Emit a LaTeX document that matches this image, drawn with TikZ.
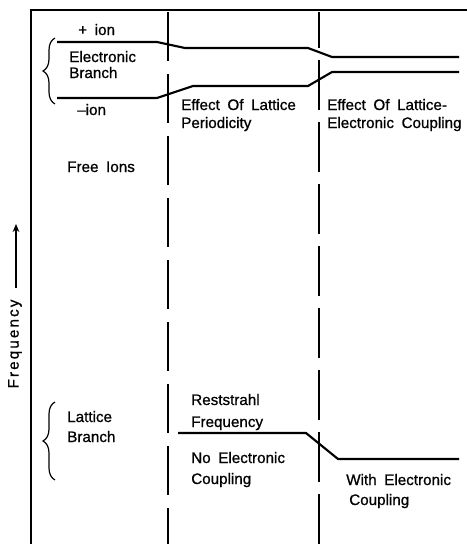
\documentclass[tikz,border=0pt]{standalone}
\usepackage{fontspec}
\setmainfont[WordSpace=1.8,FakeBold=0.8]{Liberation Sans}
\newfontfamily\spacedfont[LetterSpace=14,FakeBold=0.8]{Liberation Sans}
\usetikzlibrary{decorations.pathreplacing,arrows.meta}
\begin{document}
\begin{tikzpicture}[x=0.75pt,y=-0.75pt,
  lbl/.style={anchor=base west, inner sep=0pt, font=\fontsize{11.4}{13}\selectfont},
  frameline/.style={line width=1.1pt},
  curve/.style={line width=1.6pt, line join=round},
  divider/.style={line width=1.1pt},
  bracemark/.style={line width=0.9pt, decorate, decoration={brace, amplitude=9pt, aspect=0.5}}]
\useasboundingbox (0,0) rectangle (467,544);
% frame
\coordinate (fbl) at (31,544);
\coordinate (ftl) at (31,10);
\coordinate (ftr) at (467,10);
\draw[frameline] (fbl) -- (ftl) -- (ftr);
% dividers
\coordinate (d1t) at (168,12);
\coordinate (d1b) at (168,544);
\coordinate (d2t) at (319,12);
\coordinate (d2b) at (319,544);
\draw[divider, dash pattern=on 36.75pt off 9.75pt] (d1t) -- (d1b);
\draw[divider, dash pattern=on 37.5pt off 9pt, dash phase=10.5pt] (d2t) -- (d2b);
% electronic branch curves
\draw[curve] (57,42) -- (157,42) -- (185,48) -- (308,48) -- (332,57) -- (459,57);
\draw[curve] (57,98) -- (157,98) -- (193,86) -- (308,86) -- (332,72) -- (459,72);
% lattice branch curve
\draw[curve] (178,433) -- (306,433) -- (338,459) -- (459,459);
% braces
\coordinate (b1b) at (55,104);
\coordinate (b1t) at (55,38);
\draw[bracemark] (b1b) -- (b1t);
\coordinate (b2b) at (55,480);
\coordinate (b2t) at (55,402);
\draw[bracemark] (b2b) -- (b2t);
% labels
\node[lbl] (pion) at (78,35) {+ ion};
\node[lbl] (eb1) at (69,62) {Electronic};
\node[lbl] (eb2) at (69,78) {Branch};
\node[lbl] (mion) at (77,115) {\textendash ion};
\node[lbl] (free) at (67,172) {Free Ions};
\node[lbl] (elp1) at (181,110) {Effect Of Lattice};
\node[lbl] (elp2) at (181,128) {Periodicity};
\node[lbl] (elc1) at (327,110) {Effect Of Lattice-};
\node[lbl] (elc2) at (327,128) {Electronic Coupling};
\node[lbl] (lb1) at (67,422) {Lattice};
\node[lbl] (lb2) at (67,442) {Branch};
\node[lbl] (rs1) at (191,405) {Reststrahl};
\node[lbl] (rs2) at (191,427) {Frequency};
\node[lbl] (ne1) at (191,463) {No Electronic};
\node[lbl] (ne2) at (191,484) {Coupling};
\node[lbl] (we1) at (346,485) {With Electronic};
\node[lbl] (we2) at (349,505) {Coupling};
% frequency axis label
\node[inner sep=0pt, rotate=90, font=\spacedfont\fontsize{11.4}{13}\selectfont] (freq) at (15,344) {Frequency};
\coordinate (arrtop) at (16,224);
\coordinate (arrbot) at (16,288);
\draw[line width=0.9pt, -{Stealth[length=6pt,width=5pt]}] (arrbot) -- (arrtop);
\end{tikzpicture}
\end{document}
